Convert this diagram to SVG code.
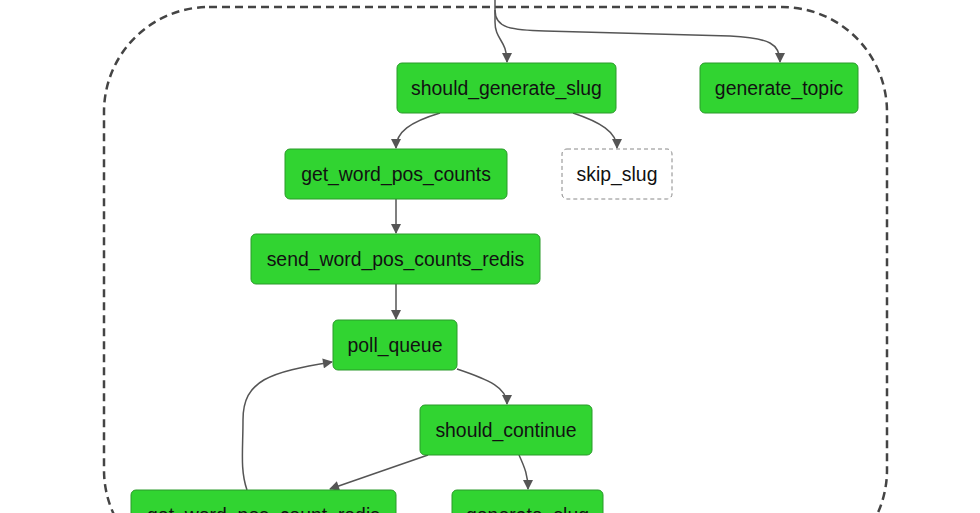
<svg xmlns="http://www.w3.org/2000/svg" width="980" height="513" viewBox="0 0 980 513">
<defs>
<style>
.n rect{fill:#31d431;stroke:#2a9a2a;stroke-width:1}
.n text,.s text{font-family:"Liberation Sans",Arial,sans-serif;font-size:19.4px;fill:#111;text-anchor:middle;dominant-baseline:central}
.s rect{fill:#fff;stroke:#888;stroke-width:1;stroke-dasharray:4 3}
.e path{fill:none;stroke:#555;stroke-width:1.5;marker-end:url(#a)}
</style>
<marker id="a" viewBox="0 0 10 10" refX="9" refY="5" markerWidth="11" markerHeight="10" markerUnits="userSpaceOnUse" orient="auto">
<path d="M0,0 L10,5 L0,10 z" fill="#555"/>
</marker>
</defs>
<rect x="104" y="7" width="783" height="568" rx="105" fill="none" stroke="#444" stroke-width="2.5" stroke-dasharray="8 5"/>
<g class="e" id="edges">
<path d="M495,0 L495,22 C495,40 507,40 507,62"/>
<path d="M495,10 C495,28 510,30 545,31 L730,36 C770,38 780,44 780,62"/>
<path d="M440,113 C410,122 396,132 396,148"/>
<path d="M573,113 C600,122 617,132 617,148"/>
<path d="M396,199 L396,233"/>
<path d="M396,284 L396,319"/>
<path d="M457,369 C490,380 507,388 507,404"/>
<path d="M428,455 L330,489"/>
<path d="M519,455 C525,468 528,476 528,489"/>
<path d="M247,490 C240,470 243,450 243,420 C243,380 270,372 332,362"/>
</g>
<g class="n" id="should_generate_slug"><rect x="397" y="63" width="219" height="50" rx="5"/><text x="506.5" y="88">should_generate_slug</text></g>
<g class="n" id="generate_topic"><rect x="700" y="63" width="158" height="50" rx="5"/><text x="779" y="88">generate_topic</text></g>
<g class="n" id="get_word_pos_counts"><rect x="285" y="149" width="222" height="50" rx="5"/><text x="396" y="174">get_word_pos_counts</text></g>
<g class="s" id="skip_slug"><rect x="562" y="149" width="110" height="50" rx="5"/><text x="617" y="174">skip_slug</text></g>
<g class="n" id="send_word_pos_counts_redis"><rect x="251" y="234" width="289" height="50" rx="5"/><text x="395.5" y="259">send_word_pos_counts_redis</text></g>
<g class="n" id="poll_queue"><rect x="333" y="320" width="124" height="50" rx="5"/><text x="395" y="345">poll_queue</text></g>
<g class="n" id="should_continue"><rect x="420" y="405" width="172" height="50" rx="5"/><text x="506" y="430">should_continue</text></g>
<g class="n" id="get_word_pos_count_redis"><rect x="131" y="490" width="265" height="50" rx="5"/><text x="263.5" y="515">get_word_pos_count_redis</text></g>
<g class="n" id="generate_slug"><rect x="452" y="490" width="151" height="50" rx="5"/><text x="527.5" y="515">generate_slug</text></g>
</svg>
